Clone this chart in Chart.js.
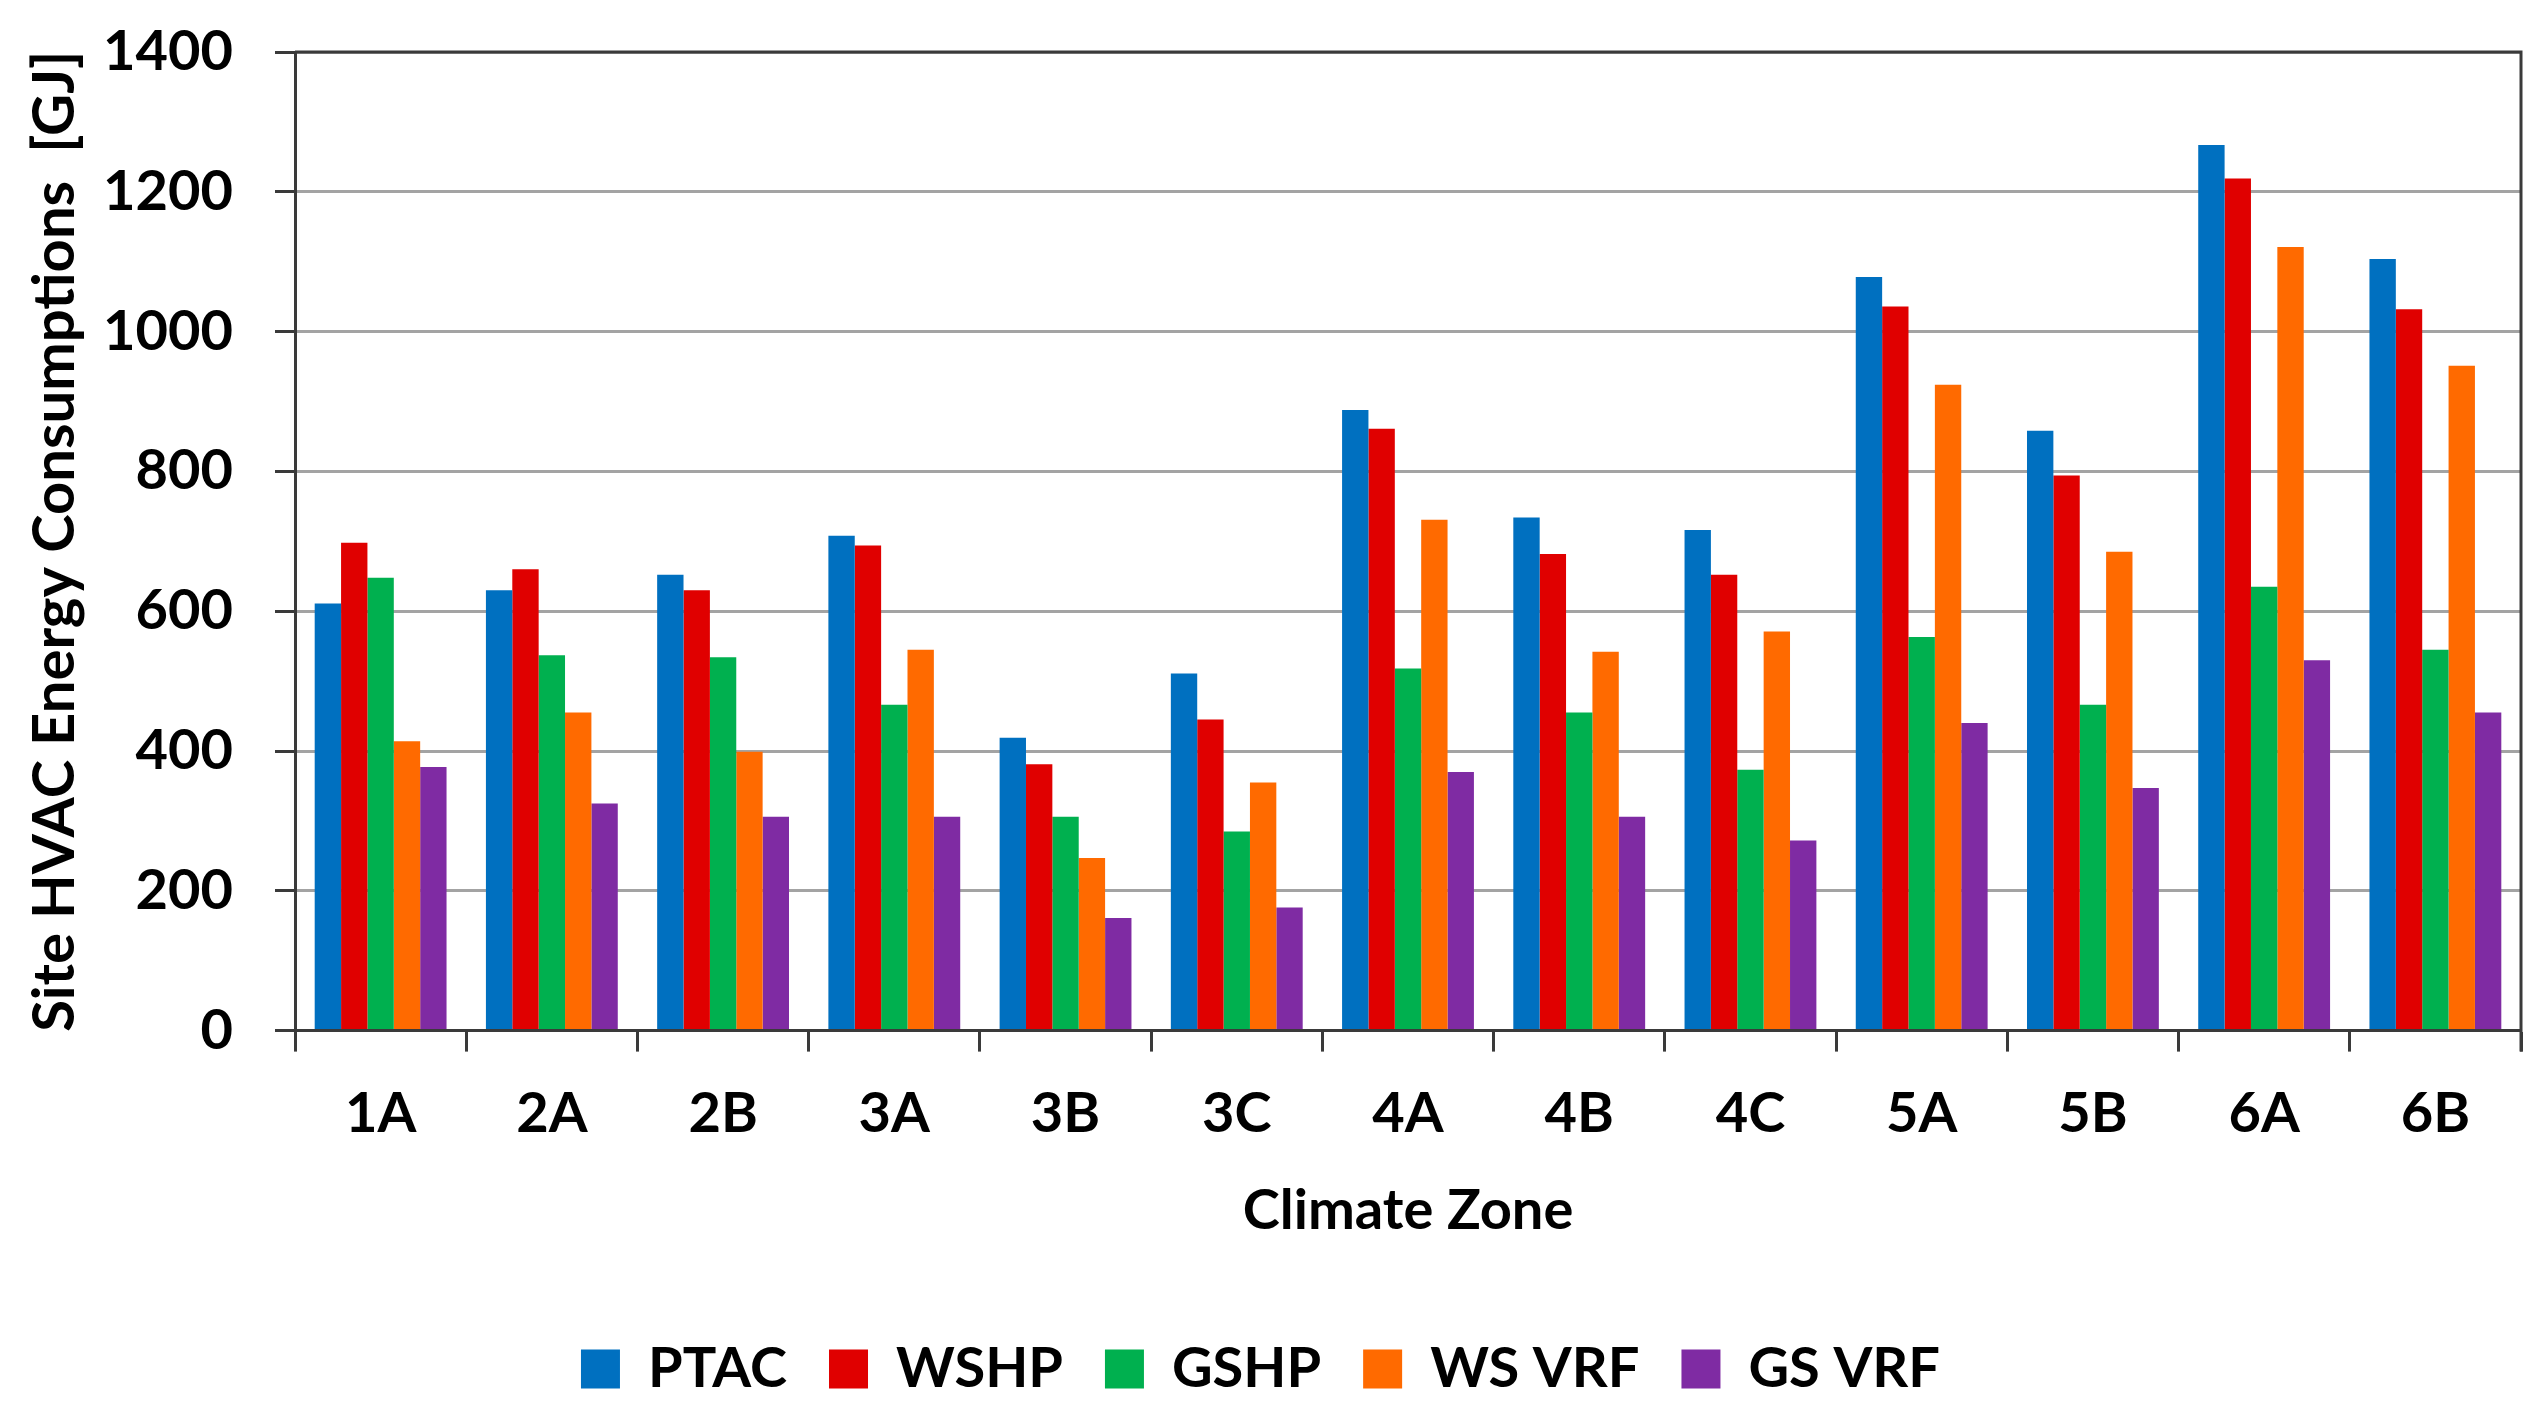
<!DOCTYPE html>
<html>
<head>
<meta charset="utf-8">
<script src="https://cdn.jsdelivr.net/npm/chart.js@4.4.1/dist/chart.umd.min.js"></script>
<style>
    html, body { margin: 0; padding: 0; background: #fff; }
    #box { width: 2544px; height: 1412px; position: relative; }
</style>
</head>
<body>
<div id="box"><canvas id="barChart"></canvas></div>
<script>
// Zonas climáticas e consumo por sistema [GJ]
const zonas = ['1A', '2A', '2B', '3A', '3B', '3C', '4A', '4B', '4C', '5A', '5B', '6A', '6B'];
const ptac  = [611, 630, 652, 708, 419, 511, 888, 734, 716, 1078, 858, 1267, 1104];
const wshp  = [698, 660, 630, 694, 381, 445, 861, 682, 652, 1036, 794, 1219, 1032];
const gshp  = [648, 537, 534, 466, 306, 285, 518, 455, 373, 563, 466, 635, 545];
const wsVrf = [414, 455, 399, 545, 247, 355, 731, 542, 571, 924, 685, 1121, 951];
const gsVrf = [377, 325, 306, 306, 161, 176, 370, 306, 272, 440, 347, 530, 455];

const fonte = 'Lato, "Open Sans", Arial, sans-serif';
const escuro = '#3a3a3a';

// borda de cima e da direita da área do gráfico
const bordaPlugin = {
    id: 'borda',
    afterDraw(chart) {
        const a = chart.chartArea;
        const ctx = chart.ctx;
        ctx.save();
        ctx.strokeStyle = escuro;
        ctx.lineWidth = 3;
        ctx.beginPath();
        ctx.moveTo(a.left, a.top);
        ctx.lineTo(a.right, a.top);
        ctx.lineTo(a.right, a.bottom + 21);
        ctx.stroke();
        ctx.restore();
    }
};

const barChart = new Chart(document.getElementById('barChart'), {
    type: 'bar',
    data: {
        labels: zonas,
        datasets: [
            { label: 'PTAC',   data: ptac,  backgroundColor: '#0070C0' },
            { label: 'WSHP',   data: wshp,  backgroundColor: '#E00000' },
            { label: 'GSHP',   data: gshp,  backgroundColor: '#00B04F' },
            { label: 'WS VRF', data: wsVrf, backgroundColor: '#FF6A00' },
            { label: 'GS VRF', data: gsVrf, backgroundColor: '#7F2BA3' }
        ]
    },
    options: {
        responsive: true,
        maintainAspectRatio: false,
        devicePixelRatio: 1,
        animation: false,
        categoryPercentage: 0.77,
        barPercentage: 1.0,
        layout: {
            padding: { top: 52, right: 23, left: 0, bottom: 5 }
        },
        scales: {
            x: {
                grid: {
                    offset: true,
                    drawOnChartArea: false,
                    drawTicks: true,
                    tickLength: 21,
                    tickWidth: 3,
                    tickColor: escuro
                },
                border: { color: escuro, width: 3 },
                ticks: {
                    color: '#000',
                    padding: 29,
                    font: { family: fonte, size: 56, weight: 'bold' }
                },
                title: {
                    display: true,
                    text: 'Climate Zone',
                    color: '#000',
                    padding: { top: 1, bottom: 54 },
                    font: { family: fonte, size: 56, weight: 'bold' }
                }
            },
            y: {
                min: 0,
                max: 1400,
                afterFit: scale => {
                    scale.width = 295;
                    scale.paddingTop = 0;
                },
                ticks: {
                    stepSize: 200,
                    color: '#000',
                    padding: 42,
                    callback: value => value,
                    font: { family: fonte, size: 56, weight: 'bold' }
                },
                grid: {
                    color: '#a3a3a3',
                    lineWidth: 3,
                    tickLength: 20,
                    tickWidth: 3,
                    tickColor: escuro
                },
                border: { color: escuro, width: 3 },
                title: {
                    display: true,
                    text: 'Site HVAC Energy Consumptions  [GJ]',
                    color: '#000',
                    padding: { top: 20, bottom: 8 },
                    font: { family: fonte, size: 58, weight: 'bold' }
                }
            }
        },
        plugins: {
            legend: {
                position: 'bottom',
                labels: {
                    color: '#000',
                    boxWidth: 39,
                    boxHeight: 39,
                    padding: 42,
                    font: { family: fonte, size: 56, weight: 'bold' }
                }
            },
            title: { display: false },
            tooltip: { enabled: false }
        }
    },
    plugins: [bordaPlugin]
});
</script>
</body>
</html>
